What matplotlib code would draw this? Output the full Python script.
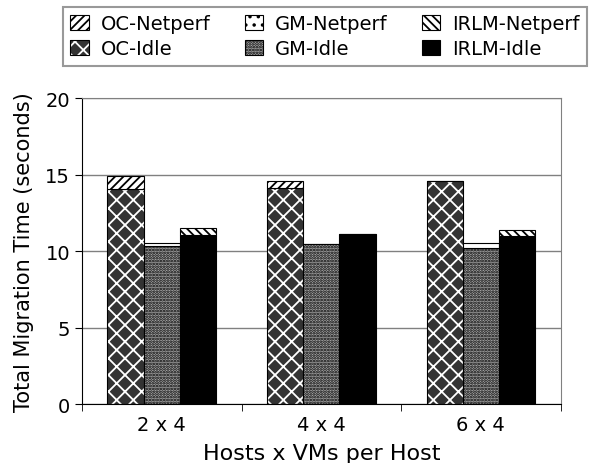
import numpy as np
import matplotlib
matplotlib.use("Agg")
import matplotlib.pyplot as plt
from matplotlib.legend_handler import HandlerTuple
import matplotlib.patches as mpatches

# ── Data (seconds) ─────────────────────────────────────────────────────────────
configs   = ["2 x 4", "4 x 4", "6 x 4"]
oc_idle   = [14.05, 14.10, 14.55]
oc_net    = [0.85, 0.45, 0.00]
gm_idle   = [10.35, 10.45, 10.20]
gm_net    = [0.20, 0.00, 0.35]
irlm_idle = [11.05, 11.10, 11.00]
irlm_net  = [0.45, 0.00, 0.35]

plt.rcParams["hatch.linewidth"] = 1.3
plt.rcParams["font.family"] = "DejaVu Sans"

fig = plt.figure(figsize=(5.97, 4.64), dpi=100)
ax = fig.add_axes([0.1374, 0.127, 0.8016, 0.6596])

x = np.arange(len(configs))
W = 0.227
GRAY = "#808080"
OC_DARK = "#333333"
GM_GRAY = "#a8a8a8"

ax.set_axisbelow(True)
ax.yaxis.grid(True, color=GRAY, lw=1.0)

# OC: woven dark pattern for idle, light diagonal for netperf on top
ax.bar(x - W, oc_idle, W, facecolor=OC_DARK, edgecolor="white", hatch="xx", lw=0)
ax.bar(x - W, oc_idle, W, facecolor="none", edgecolor="black", lw=0.8)
ax.bar(x - W, oc_net, W, bottom=oc_idle, facecolor="white", edgecolor="black",
       hatch="////", lw=0.8)

# GM: fine gray texture for idle, sparse dots for netperf
ax.bar(x, gm_idle, W, facecolor=GM_GRAY, edgecolor="black", hatch="......", lw=0.8)
ax.bar(x, gm_net, W, bottom=gm_idle, facecolor="white", edgecolor="black",
       hatch="..", lw=0.8)

# IRLM: solid black idle, heavy back-diagonal for netperf
ax.bar(x + W, irlm_idle, W, facecolor="black", edgecolor="black", lw=0.8)
ax.bar(x + W, irlm_net, W, bottom=irlm_idle, facecolor="white", edgecolor="black",
       hatch="\\\\\\\\", lw=0.8)

ax.set_xlim(-0.5, 2.5)
ax.set_ylim(0, 20)
ax.set_yticks([0, 5, 10, 15, 20])
ax.set_xticks(x)
ax.set_xticklabels(configs)
ax.set_xticks([-0.5, 0.5, 1.5, 2.5], minor=True)
ax.tick_params(axis="x", which="major", length=0, labelsize=14, pad=8)
ax.tick_params(axis="x", which="minor", length=5, direction="out")
ax.tick_params(axis="y", length=5, direction="out", labelsize=14)

for side in ("top", "right"):
    ax.spines[side].set_color(GRAY)
ax.spines["left"].set_color("black")
ax.spines["bottom"].set_color("black")

ax.set_xlabel("Hosts x VMs per Host", fontsize=16, labelpad=6)
ax.set_ylabel("Total Migration Time (seconds)", fontsize=15, labelpad=8)

# ── Legend ─────────────────────────────────────────────────────────────────────
h_oc_net = mpatches.Patch(facecolor="white", edgecolor="black", hatch="////", lw=0.8)
h_oc_idle = (mpatches.Patch(facecolor=OC_DARK, edgecolor="white", hatch="xx", lw=0),
             mpatches.Patch(facecolor="none", edgecolor="black", lw=0.8))
h_gm_net = mpatches.Patch(facecolor="white", edgecolor="black", hatch="..", lw=0.8)
h_gm_idle = mpatches.Patch(facecolor=GM_GRAY, edgecolor="black", hatch="......", lw=0.8)
h_irlm_net = mpatches.Patch(facecolor="white", edgecolor="black", hatch="\\\\\\\\", lw=0.8)
h_irlm_idle = mpatches.Patch(facecolor="black", edgecolor="black", lw=0.8)

handles = [h_oc_net, h_oc_idle, h_gm_net, h_gm_idle, h_irlm_net, h_irlm_idle]
labels = ["OC-Netperf", "OC-Idle", "GM-Netperf", "GM-Idle", "IRLM-Netperf", "IRLM-Idle"]
leg = fig.legend(handles, labels, ncol=3, loc="upper left",
                 bbox_to_anchor=(63 / 597, 1 - 8 / 464),
                 handler_map={tuple: HandlerTuple(ndivide=1, pad=0)},
                 fontsize=14, frameon=True, fancybox=False,
                 handlelength=0.95, handleheight=0.78, handletextpad=0.62,
                 columnspacing=1.75, labelspacing=0.3, borderpad=0.38,
                 borderaxespad=0)
leg.get_frame().set_edgecolor(GRAY)
leg.get_frame().set_linewidth(1.5)

fig.savefig("out.png", dpi=100)
